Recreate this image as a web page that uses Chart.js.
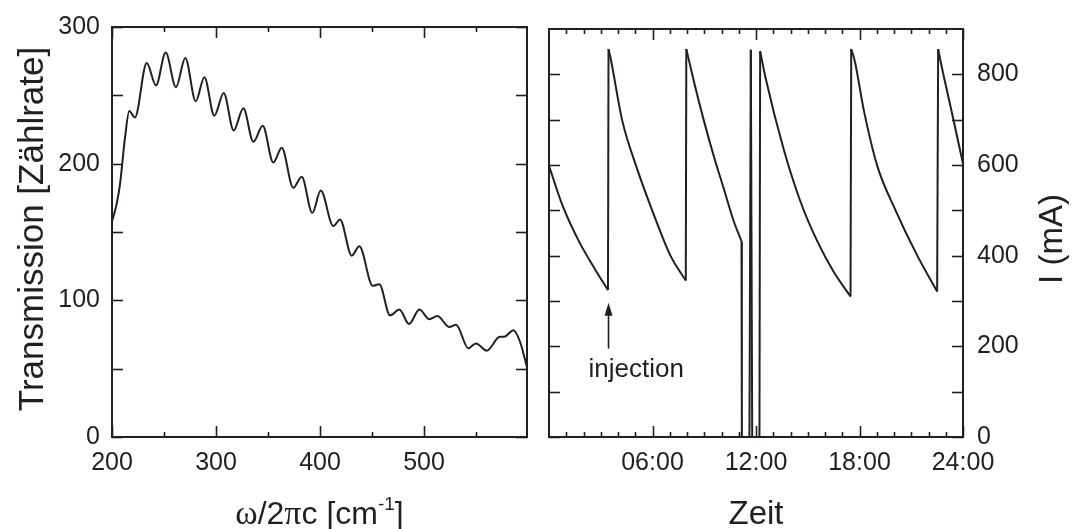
<!DOCTYPE html>
<html>
<head>
<meta charset="utf-8">
<script src="https://cdn.jsdelivr.net/npm/chart.js@4.4.0/dist/chart.umd.min.js"></script>
<style>
html,body{margin:0;padding:0;background:#fff;}
#wrap{position:relative;width:1072px;height:529px;overflow:hidden;}
#c1{position:absolute;left:0;top:0;}
#c2{position:absolute;left:540px;top:0;}
</style>
</head>
<body>
<div id="wrap">
  <canvas id="c1" width="540" height="529"></canvas>
  <canvas id="c2" width="532" height="529"></canvas>
</div>
<script>
// ---- left panel: transmission vs wavenumber ----
var wn = [200,204.5,207.7,212.5,216.6,222,233.4,242.3,251.6,261.5,270.5,280.5,288.8,298.4,307.4,317,326.3,335.9,344.9,355.1,
  363.2,374.3,382.4,392.6,400.7,412.8,419.2,430.5,437.8,450.7,457,467.3,476.3,485.6,495.5,505.1,512.8,524.3,530.8,542.6,
  550,560.3,573,577,585.9,592.3,599];
var trans = [157.7,170.6,185,219,238.5,233.7,273.7,257.3,281.3,256,277.3,245.7,263.3,235.1,251.7,224.3,240.5,216,227.7,200.8,
  211.6,182.3,190.4,164,180.3,154.3,159.2,132.7,139.5,110.6,111.8,89,93.3,82.7,93.3,86.1,88.5,80.5,82.2,64.9,
  68.5,63.2,73.3,73.3,78.1,69.7,51];
var wnTicks = [200,300,400,500];
var wnMinor = [250,350,450,550];
var transTicks = [0,100,200,300];
var transMinor = [50,150,250];

// ---- right panel: ring current over the day ----
var zeit = [0,0.77,1.73,2.70,3.42,
  3.45,3.57,4.24,5.05,5.98,7.04,7.93,
  7.96,8.39,8.97,9.55,10.13,10.71,11.16,
  11.18,11.62,11.70,11.78,12.20,12.24,
  12.55,13.61,14.58,15.55,16.51,17.48,
  17.52,17.73,18.25,19.03,20.09,21.35,22.50,
  22.56,22.70,23.37,24];
var strom = [598,512,432,368,324,
  856,836,699,598,500,400,345,
  856,786,699,620,548,476,432,
  0,0,854,0,0,851,
  793,634,519,432,364,310,
  856,829,721,598,500,400,321,
  856,829,713,603];
var zeitTicks = [6,12,18,24];
var zeitLabels = ['06:00','12:00','18:00','24:00'];
var zeitMinor = [1,2,3,4,5,7,8,9,10,11,13,14,15,16,17,19,20,21,22,23];
var stromTicks = [0,200,400,600,800];
var stromMinor = [100,300,500,700];

var ink = '#231f20';
var sans = '"Liberation Sans", Arial, Helvetica, sans-serif';
var serif = '"Liberation Serif", "Times New Roman", serif';
Chart.defaults.font.family = sans;
Chart.defaults.color = ink;

function seg(ctx, x1, y1, x2, y2) {
  ctx.beginPath(); ctx.moveTo(x1, y1); ctx.lineTo(x2, y2); ctx.stroke();
}

// frame + inward ticks on all four sides
var rahmen = {
  id: 'rahmen',
  afterDatasetsDraw: function(chart, args, o) {
    var ctx = chart.ctx, a = chart.chartArea, xs = chart.scales.x, ys = chart.scales.y;
    ctx.save();
    ctx.strokeStyle = ink;
    ctx.lineWidth = 1.6;
    o.xMajor.concat(o.xMinor).forEach(function(v, i) {
      var len = i < o.xMajor.length ? 11 : 5;
      var px = Math.round(xs.getPixelForValue(v)) + 0.5;
      seg(ctx, px, a.bottom, px, a.bottom - len);
      seg(ctx, px, a.top, px, a.top + len);
    });
    o.yMajor.concat(o.yMinor).forEach(function(v) {
      var py = Math.round(ys.getPixelForValue(v)) + 0.5;
      seg(ctx, a.left, py, a.left + 11, py);
      seg(ctx, a.right, py, a.right - 11, py);
    });
    ctx.lineWidth = 2;
    ctx.strokeRect(a.left, a.top, a.right - a.left, a.bottom - a.top);
    ctx.restore();
  }
};

var titelLinks = {
  id: 'titelLinks',
  afterDraw: function(chart) {
    var ctx = chart.ctx, a = chart.chartArea;
    ctx.save();
    ctx.fillStyle = ink;
    ctx.textBaseline = 'alphabetic';
    // y title
    ctx.save();
    ctx.translate(43, (a.top + a.bottom) / 2 - 3);
    ctx.rotate(-Math.PI / 2);
    ctx.textAlign = 'center';
    ctx.font = '35px ' + sans;
    ctx.fillText('Transmission [Zählrate]', 0, 0);
    ctx.restore();
    // x title: ω/2πc [cm-1]
    var parts = [
      ['ω', '34px ' + serif, 0],
      ['/2', '32px ' + sans, 0],
      ['π', '34px ' + serif, 0],
      ['c [cm', '32px ' + sans, 0],
      ['-1', '19px ' + sans, -14],
      [']', '32px ' + sans, 0]
    ];
    var w = 0;
    parts.forEach(function(p) { ctx.font = p[1]; w += ctx.measureText(p[0]).width; });
    var x = (a.left + a.right) / 2 - w / 2, y = 524;
    ctx.textAlign = 'left';
    parts.forEach(function(p) {
      ctx.font = p[1];
      ctx.fillText(p[0], x, y + p[2]);
      x += ctx.measureText(p[0]).width;
    });
    ctx.restore();
  }
};

var titelRechts = {
  id: 'titelRechts',
  afterDraw: function(chart) {
    var ctx = chart.ctx, a = chart.chartArea, xs = chart.scales.x, ys = chart.scales.y;
    ctx.save();
    ctx.fillStyle = ink;
    ctx.strokeStyle = ink;
    ctx.textBaseline = 'alphabetic';
    ctx.textAlign = 'center';
    ctx.font = '33px ' + sans;
    ctx.fillText('Zeit', (a.left + a.right) / 2, 524);
    ctx.save();
    ctx.translate(522, (a.top + a.bottom) / 2 + 6);
    ctx.rotate(-Math.PI / 2);
    ctx.fillText('I (mA)', 0, 0);
    ctx.restore();
    // injection arrow
    var ax = xs.getPixelForValue(3.45);
    var tip = ys.getPixelForValue(296), tail = ys.getPixelForValue(195);
    ctx.lineWidth = 1.6;
    seg(ctx, ax, tail, ax, tip + 10);
    ctx.beginPath();
    ctx.moveTo(ax, tip); ctx.lineTo(ax - 4, tip + 13); ctx.lineTo(ax + 4, tip + 13); ctx.closePath();
    ctx.fill();
    ctx.font = '26px ' + sans;
    ctx.fillText('injection', xs.getPixelForValue(5.06), ys.getPixelForValue(133));
    ctx.restore();
  }
};

function pts(xa, ya) {
  return xa.map(function(v, i) { return {x: v, y: ya[i]}; });
}

// split the current trace at the jumps: smooth decays, straight jumps
function stromDatasets() {
  var p = pts(zeit, strom), out = [], cur = [p[0]];
  function style(d, smooth) {
    return { data: d, borderColor: ink, borderWidth: 2, pointRadius: 0, fill: false,
      cubicInterpolationMode: smooth ? 'monotone' : 'default', tension: 0 };
  }
  for (var i = 1; i < p.length; i++) {
    if (p[i].x - p[i - 1].x < 0.1 || p[i].y === 0 || p[i - 1].y === 0) {
      if (cur.length > 1) out.push(style(cur, true));
      out.push(style([p[i - 1], p[i]], false));
      cur = [p[i]];
    } else {
      cur.push(p[i]);
    }
  }
  if (cur.length > 1) out.push(style(cur, true));
  return out;
}

new Chart(document.getElementById('c1'), {
  type: 'line',
  data: { datasets: [{
    data: pts(wn, trans),
    borderColor: ink, borderWidth: 2, pointRadius: 0,
    cubicInterpolationMode: 'monotone', fill: false
  }]},
  options: {
    responsive: false, animation: false,
    layout: { padding: { top: 21, right: 13, left: 0, bottom: 0 } },
    plugins: {
      legend: { display: false }, tooltip: { enabled: false },
      rahmen: { xMajor: wnTicks, xMinor: wnMinor, yMajor: transTicks, yMinor: transMinor }
    },
    scales: {
      x: {
        type: 'linear', min: 200, max: 599,
        grid: { display: false, drawTicks: false }, border: { display: false },
        afterBuildTicks: function(s) { s.ticks = wnTicks.map(function(v) { return {value: v}; }); },
        ticks: { padding: 11, font: { size: 25 }, autoSkip: false, maxRotation: 0 },
        afterFit: function(s) { s.height = 92; }
      },
      y: {
        type: 'linear', min: 0, max: 300,
        grid: { display: false, drawTicks: false }, border: { display: false },
        afterBuildTicks: function(s) { s.ticks = transTicks.map(function(v) { return {value: v}; }); },
        ticks: { padding: 12, font: { size: 25 } },
        afterFit: function(s) { s.width = 112; }
      }
    }
  },
  plugins: [rahmen, titelLinks]
});

new Chart(document.getElementById('c2'), {
  type: 'line',
  data: { datasets: stromDatasets() },
  options: {
    responsive: false, animation: false,
    layout: { padding: { top: 21, right: 0, left: 9, bottom: 0 } },
    plugins: {
      legend: { display: false }, tooltip: { enabled: false },
      rahmen: { xMajor: zeitTicks, xMinor: zeitMinor, yMajor: stromTicks, yMinor: stromMinor }
    },
    scales: {
      x: {
        type: 'linear', min: 0, max: 24,
        grid: { display: false, drawTicks: false }, border: { display: false },
        afterBuildTicks: function(s) { s.ticks = zeitTicks.map(function(v) { return {value: v}; }); },
        ticks: {
          padding: 11, font: { size: 25 }, autoSkip: false, maxRotation: 0,
          callback: function(v) { return zeitLabels[zeitTicks.indexOf(v)]; }
        },
        afterFit: function(s) { s.height = 92; }
      },
      y: {
        type: 'linear', position: 'right', min: 0, max: 900,
        grid: { display: false, drawTicks: false }, border: { display: false },
        afterBuildTicks: function(s) { s.ticks = stromTicks.map(function(v) { return {value: v}; }); },
        ticks: { padding: 14, font: { size: 25 } },
        afterFit: function(s) { s.width = 109; }
      }
    }
  },
  plugins: [rahmen, titelRechts]
});
</script>
</body>
</html>
